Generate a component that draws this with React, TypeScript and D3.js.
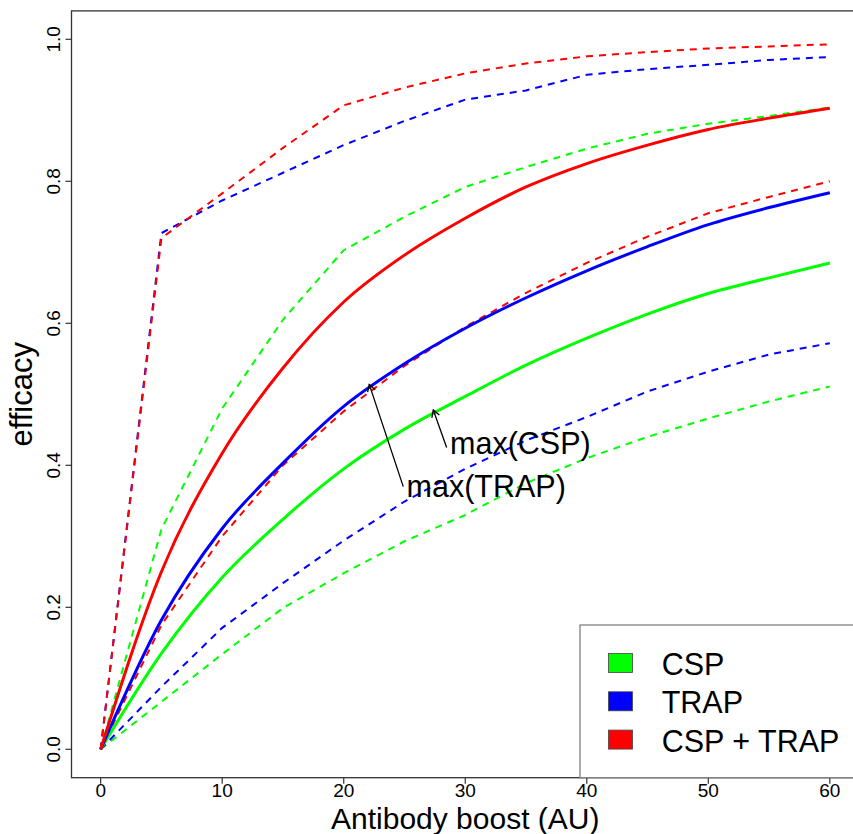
import React from "react";
import * as d3 from "d3";

const boost = [0, 5, 10, 15, 20, 25, 30, 35, 40, 45, 50, 55, 60];

const cspMed = [0, 0.135, 0.242, 0.324, 0.395, 0.451, 0.497, 0.541, 0.579, 0.613, 0.642, 0.664, 0.685];
const cspLo = [0, 0.067, 0.134, 0.199, 0.248, 0.293, 0.33, 0.375, 0.41, 0.44, 0.466, 0.49, 0.511];
const cspHi = [0, 0.31, 0.48, 0.605, 0.703, 0.75, 0.792, 0.82, 0.846, 0.867, 0.881, 0.892, 0.904];

const trapMed = [0, 0.182, 0.311, 0.403, 0.483, 0.543, 0.593, 0.636, 0.674, 0.708, 0.739, 0.763, 0.784];
const trapLo = [0, 0.088, 0.171, 0.234, 0.294, 0.349, 0.395, 0.435, 0.468, 0.504, 0.532, 0.556, 0.572];
const trapHi = [0, 0.727, 0.773, 0.812, 0.851, 0.885, 0.915, 0.928, 0.95, 0.958, 0.964, 0.971, 0.975];

const comboMed = [0, 0.25, 0.417, 0.537, 0.63, 0.696, 0.748, 0.792, 0.825, 0.851, 0.873, 0.889, 0.903];
const comboLo = [0, 0.175, 0.3, 0.4, 0.476, 0.54, 0.595, 0.643, 0.685, 0.722, 0.755, 0.778, 0.8];
const comboHi = [0, 0.72, 0.783, 0.847, 0.907, 0.932, 0.952, 0.966, 0.976, 0.982, 0.987, 0.99, 0.993];

const xTicks = [0, 10, 20, 30, 40, 50, 60];
const yTicks = [0, 0.2, 0.4, 0.6, 0.8, 1.0];

const legendLabels = ["CSP", "TRAP", "CSP + TRAP"];
const legendColors = ["#00ff00", "#0000ff", "#ff0000"];

// annotations: [tipX, tipY, tailX, tailY, textX, textY, label]
const annotations: [number, number, number, number, number, number, string][] = [
  [27.37, 0.478, 28.47, 0.425, 28.75, 0.416, "max(CSP)"],
  [22.1, 0.514, 24.9, 0.37, 25.17, 0.355, "max(TRAP)"],
];

const W = 853;
const H = 834;
const FONT = "'Liberation Sans', Arial, Helvetica, sans-serif";

export default function App() {
  const x = d3.scaleLinear().domain([-2.4, 62.4]).range([71.5, 859]);
  const y = d3.scaleLinear().domain([-0.04, 1.04]).range([777.7, 10.9]);

  const lineSmooth = d3
    .line<[number, number]>()
    .x((d) => x(d[0]))
    .y((d) => y(d[1]))
    .curve(d3.curveMonotoneX);
  const lineStraight = d3
    .line<[number, number]>()
    .x((d) => x(d[0]))
    .y((d) => y(d[1]));

  const mk = (vals: number[], smooth: boolean) =>
    (smooth ? lineSmooth : lineStraight)(boost.map((b, i) => [b, vals[i]] as [number, number])) || "";

  const dashed = [
    { v: cspLo, c: legendColors[0] },
    { v: cspHi, c: legendColors[0] },
    { v: trapLo, c: legendColors[1] },
    { v: trapHi, c: legendColors[1] },
    { v: comboLo, c: legendColors[2] },
    { v: comboHi, c: legendColors[2] },
  ];
  const solid = [
    { v: cspMed, c: legendColors[0] },
    { v: trapMed, c: legendColors[1] },
    { v: comboMed, c: legendColors[2] },
  ];

  const [x0, x1] = x.range();
  const [yb, yt] = y.range();

  const arrowHead = (tx: number, ty: number, sx: number, sy: number) => {
    const ang = Math.atan2(sy - ty, sx - tx);
    const len = 8;
    const a = Math.PI / 6;
    const p1 = [tx + len * Math.cos(ang - a), ty + len * Math.sin(ang - a)];
    const p2 = [tx + len * Math.cos(ang + a), ty + len * Math.sin(ang + a)];
    return `M${p1[0]},${p1[1]}L${tx},${ty}L${p2[0]},${p2[1]}`;
  };

  const legX = 580;
  const legY = 625;

  return (
    <svg
      width={W}
      height={H}
      style={{ position: "absolute", left: 0, top: 0, background: "#fff" }}
      fontFamily={FONT}
    >
      <rect x={0} y={0} width={W} height={H} fill="#fff" />
      <defs>
        <clipPath id="plotclip">
          <rect x={x0} y={yt} width={x1 - x0} height={yb - yt} />
        </clipPath>
      </defs>
      <g clipPath="url(#plotclip)">
        {dashed.map((d, i) => (
          <path
            key={"d" + i}
            d={mk(d.v, false)}
            fill="none"
            stroke={d.c}
            strokeWidth={2}
            strokeDasharray="7,6"
          />
        ))}
        {solid.map((d, i) => (
          <path key={"s" + i} d={mk(d.v, true)} fill="none" stroke={d.c} strokeWidth={3} strokeLinejoin="round" />
        ))}
      </g>

      {/* box */}
      <rect x={x0} y={yt} width={x1 - x0} height={yb - yt} fill="none" stroke="#333" strokeWidth={1.3} />

      {/* x axis ticks */}
      {xTicks.map((t) => (
        <g key={"xt" + t}>
          <line x1={x(t)} x2={x(t)} y1={yb} y2={yb + 6} stroke="#333" strokeWidth={1.2} />
          <text x={x(t)} y={797} textAnchor="middle" fontSize={19} fill="#000">
            {t}
          </text>
        </g>
      ))}
      {/* y axis ticks */}
      {yTicks.map((t) => (
        <g key={"yt" + t}>
          <line x1={x0 - 6} x2={x0} y1={y(t)} y2={y(t)} stroke="#333" strokeWidth={1.2} />
          <text
            transform={`translate(60,${y(t)}) rotate(-90)`}
            textAnchor="middle"
            fontSize={19}
            fill="#000"
          >
            {t.toFixed(1)}
          </text>
        </g>
      ))}

      {/* axis titles */}
      <text x={(x0 + x1) / 2} y={829} textAnchor="middle" fontSize={30} fill="#000">
        Antibody boost (AU)
      </text>
      <text
        transform={`translate(32,${(yt + yb) / 2}) rotate(-90)`}
        textAnchor="middle"
        fontSize={31}
        fill="#000"
      >
        efficacy
      </text>

      {/* annotations */}
      {annotations.map((a, i) => {
        const tx = x(a[0]);
        const ty = y(a[1]);
        const sx = x(a[2]);
        const sy = y(a[3]);
        return (
          <g key={"a" + i}>
            <line x1={sx} y1={sy} x2={tx} y2={ty} stroke="#000" strokeWidth={1.3} />
            <path d={arrowHead(tx, ty, sx, sy)} fill="none" stroke="#000" strokeWidth={1.3} />
            <text x={x(a[4])} y={y(a[5])} fontSize={30.5} fill="#000">
              {a[6]}
            </text>
          </g>
        );
      })}

      {/* legend */}
      <rect x={legX} y={legY} width={x1 - legX} height={yb - legY} fill="#fff" stroke="#808080" strokeWidth={1.3} />
      {legendLabels.map((lab, i) => (
        <g key={"l" + i}>
          <rect
            x={legX + 28.5}
            y={legY + 28.5 + i * 38.3}
            width={24}
            height={19}
            fill={legendColors[i]}
            stroke="#444"
            strokeWidth={0.8}
          />
          <text x={legX + 81.7} y={legY + 50 + i * 38.3} fontSize={30.5} fill="#000">
            {lab}
          </text>
        </g>
      ))}
    </svg>
  );
}
